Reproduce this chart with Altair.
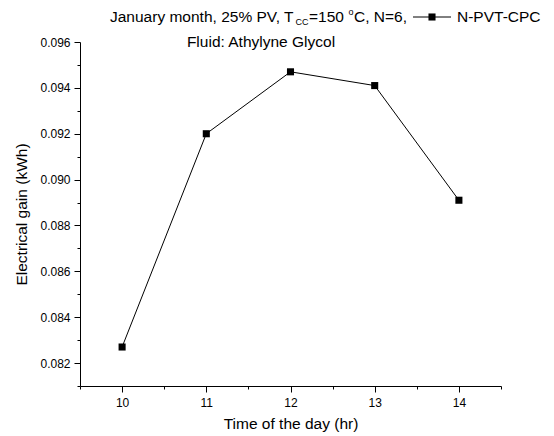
import altair as alt
import pandas as pd

# Electrical gain of the N-PVT-CPC collector through a January day
hours = [10, 11, 12, 13, 14]
gain_kwh = [0.0827, 0.0920, 0.0947, 0.0941, 0.0891]

x_ticks = [9.5, 10, 10.5, 11, 11.5, 12, 12.5, 13, 13.5, 14, 14.5]
y_ticks = [0.081, 0.082, 0.083, 0.084, 0.085, 0.086, 0.087, 0.088,
           0.089, 0.090, 0.091, 0.092, 0.093, 0.094, 0.095, 0.096]

df = pd.DataFrame({"hour": hours, "gain": gain_kwh})
one = pd.DataFrame({"k": [0]})  # single row for annotation marks

FONT = "Liberation Sans"
FS = 15.5
W, H = 421, 344

x_enc = alt.X(
    "hour:Q",
    scale=alt.Scale(domain=[9.5, 14.5], nice=False, zero=False),
    axis=alt.Axis(
        title="Time of the day (hr)",
        values=x_ticks,
        labelExpr="datum.value % 1 === 0 ? format(datum.value, 'd') : ''",
        tickSize={"condition": {"test": "datum.value % 1 === 0", "value": 6}, "value": 3},
        labelPadding=5,
        titlePadding=8,
        grid=False,
    ),
)
y_enc = alt.Y(
    "gain:Q",
    scale=alt.Scale(domain=[0.081, 0.096], nice=False, zero=False),
    axis=alt.Axis(
        title="Electrical gain (kWh)",
        values=y_ticks,
        labelExpr="round(datum.value * 1000) % 2 === 0 ? format(datum.value, '.3f') : ''",
        tickSize={"condition": {"test": "round(datum.value * 1000) % 2 === 0", "value": 6}, "value": 3},
        labelPadding=4,
        titlePadding=10,
        grid=False,
    ),
)

base = alt.Chart(df).encode(x=x_enc, y=y_enc)
line = base.mark_line(color="black", strokeWidth=1)
points = base.mark_point(shape="square", filled=True, color="black", size=50, opacity=1)


def label(txt, x, y, size=FS, align="left"):
    return alt.Chart(one).mark_text(
        font=FONT, fontSize=size, align=align, baseline="middle", color="black"
    ).encode(x=alt.value(x), y=alt.value(y), text=alt.value(txt))


# Header: run conditions, with T_CC subscript and degree superscript
t_y = -25
header = [
    label("January month, 25% PV, T", 30, t_y),
    label("CC", 215.5, t_y + 5, size=9),
    label("=150 ", 229, t_y),
    label("o", 268.5, t_y - 5, size=9),
    label("C, N=6,", 274, t_y),
    label("Fluid: Athylyne Glycol", 181, 0, align="center"),
]

# Legend entry
leg_line = alt.Chart(one).mark_rule(color="black", strokeWidth=1).encode(
    x=alt.value(333), x2=alt.value(371), y=alt.value(t_y))
leg_mark = alt.Chart(one).mark_point(shape="square", filled=True, color="black", size=50, opacity=1).encode(
    x=alt.value(352), y=alt.value(t_y))
leg_text = label("N-PVT-CPC", 377, t_y)

chart = alt.layer(
    line, points, *header, leg_line, leg_mark, leg_text
).properties(
    width=W, height=H,
    autosize=alt.AutoSizeParams(type="none"),
    padding={"left": 80, "top": 42, "right": 53, "bottom": 50},
    background="white",
).configure_view(
    stroke=None
).configure_axis(
    domainColor="black", tickColor="black", labelColor="black", titleColor="black",
    labelFont=FONT, titleFont=FONT, labelFontSize=12, titleFontSize=FS,
    titleFontWeight="normal", tickWidth=1, domainWidth=1,
)

chart.save("out.html", embed_options={"renderer": "svg", "actions": False})
